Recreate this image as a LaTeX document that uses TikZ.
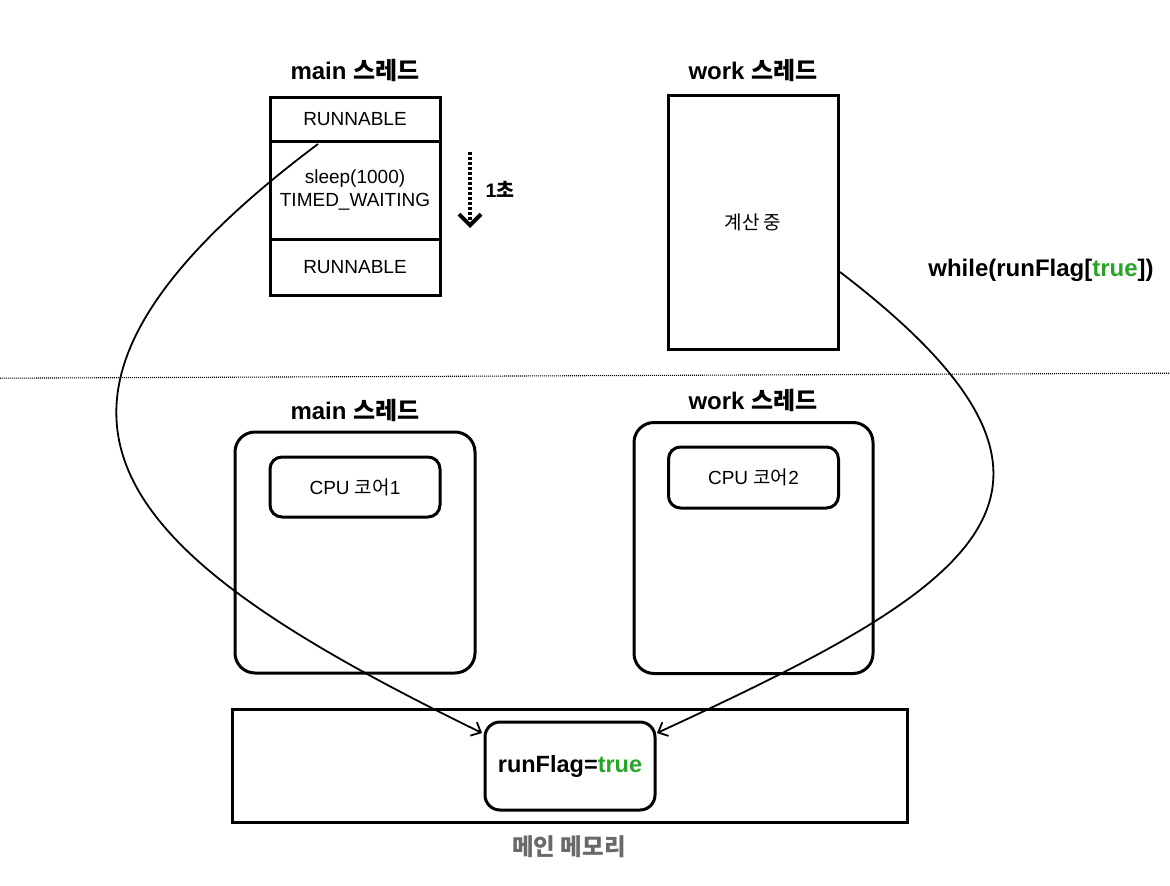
\documentclass[tikz,border=0pt]{standalone}
\usepackage{fontspec}
\setmainfont{Liberation Sans}
\newfontfamily\kr{Noto Sans CJK KR}
\usetikzlibrary{arrows.meta}
\definecolor{flaggreen}{RGB}{40,165,40}
\definecolor{memgray}{RGB}{105,105,105}
\newcommand{\K}[1]{{\kr #1}}
\begin{document}
\begin{tikzpicture}[x=1pt,y=-1pt,
  box/.style={draw, line width=3pt, inner sep=0pt, outer sep=0pt},
  rbox/.style={box, rounded corners=#1},
  title/.style={font=\fontsize{24}{28}\selectfont\bfseries},
  label/.style={font=\fontsize{19}{23.5}\selectfont},
  link/.style={line width=1.8pt, -{Straight Barb[length=8pt,width=15pt,line width=1.8pt]}},
  sep/.style={line width=1.1pt, dash pattern=on 1pt off 1pt}
]
\useasboundingbox (0,0) rectangle (1170,886);

% top: main thread
\node[title] (tmain) at (355,70) {main \K{스레드}};
\node[box, minimum width=170pt, minimum height=44pt, label] (r1) at (355,119) {RUNNABLE};
\node[box, minimum width=170pt, minimum height=98pt, label, align=center] (r2) at (355,190) {sleep(1000)\\TIMED\_WAITING};
\node[box, minimum width=170pt, minimum height=56pt, label] (r3) at (355,267) {RUNNABLE};

\coordinate (d1) at (470,152);
\coordinate (d2) at (470,228);
\draw[line width=4pt, dash pattern=on 3pt off 2pt, -{Straight Barb[length=11pt,width=22pt,line width=4pt]}] (d1) -- (d2);
\node[font=\fontsize{19.5}{23}\selectfont\bfseries] (sec) at (500,189) {1\K{초}};

% top: work thread
\node[title] (twork) at (753,70) {work \K{스레드}};
\node[box, minimum width=170pt, minimum height=254pt, font=\fontsize{19}{22}\selectfont] (wbox) at (753,222) {\K{계산 중}};
\node[title] (wh) at (1041,270) {while(runFlag[\textcolor{flaggreen}{true}])};

% separator
\coordinate (sL) at (0,378.2);
\coordinate (sR) at (1170,373.2);
\draw[sep] (sL) -- (sR);

% lower: main thread / core 1
\node[title] (bmain) at (355,410) {main \K{스레드}};
\node[rbox=20pt, minimum width=240pt, minimum height=241pt] (core1out) at (355,552.5) {};
\node[rbox=12pt, minimum width=170pt, minimum height=60pt, label] (cpu1) at (355,487) {CPU \K{코어}1};

% lower: work thread / core 2
\node[title] (bwork) at (753,400) {work \K{스레드}};
\node[rbox=20pt, minimum width=239pt, minimum height=251pt] (core2out) at (753.5,548) {};
\node[rbox=12pt, minimum width=170pt, minimum height=61pt, label] (cpu2) at (753.5,477.5) {CPU \K{코어}2};

% main memory
\node[box, minimum width=675pt, minimum height=113pt] (mem) at (569.5,765.5) {};
\node[rbox=15pt, minimum width=170pt, minimum height=88pt, font=\fontsize{23.5}{27}\selectfont\bfseries] (flag) at (570,766) {runFlag=\textcolor{flaggreen}{true}};
\node[font=\fontsize{23.5}{27}\selectfont\bfseries, text=memgray] (memlbl) at (569,847) {\K{메인 메모리}};

% connectors
\coordinate (s1) at (318,144);
\coordinate (e1) at (482,733);
\coordinate (s2) at (840,272);
\coordinate (e2) at (657,733);
\draw[link] (s1) .. controls (-42,414) and (122,557) .. (e1);
\draw[link] (s2) .. controls (1128,492) and (978,585) .. (e2);
\end{tikzpicture}
\end{document}
